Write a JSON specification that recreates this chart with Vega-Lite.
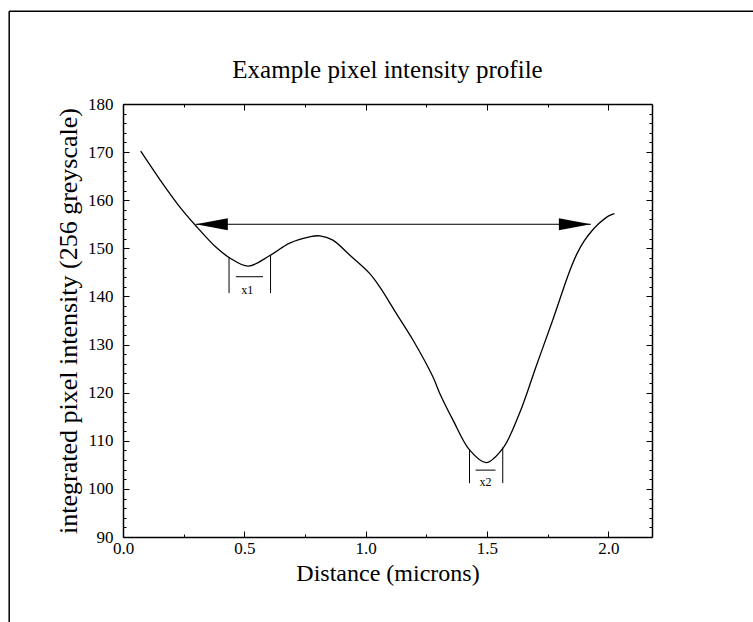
{
  "$schema": "https://vega.github.io/schema/vega-lite/v6.json",
  "autosize": "none",
  "width": 529,
  "height": 433,
  "padding": {"left": 123, "top": 104, "right": 101, "bottom": 85},
  "background": "white",
  "config": {"view": {"stroke": null}, "font": "Liberation Serif"},
  "title": {"text": "Example pixel intensity profile", "font": "Liberation Serif", "fontSize": 25, "fontWeight": "normal", "color": "black", "offset": 0, "dy": 73},
  "datasets": {
    "curve": [
      {"d": 0.073, "v": 170.2}, {"d": 0.152, "v": 164.3}, {"d": 0.228, "v": 159.0}, {"d": 0.300, "v": 154.7},
      {"d": 0.386, "v": 150.1}, {"d": 0.440, "v": 148.0}, {"d": 0.516, "v": 146.3}, {"d": 0.605, "v": 148.5},
      {"d": 0.687, "v": 151.1}, {"d": 0.770, "v": 152.4}, {"d": 0.811, "v": 152.6}, {"d": 0.865, "v": 151.7},
      {"d": 0.934, "v": 148.6}, {"d": 1.016, "v": 144.8}, {"d": 1.058, "v": 142.0}, {"d": 1.126, "v": 136.5},
      {"d": 1.195, "v": 130.95}, {"d": 1.277, "v": 123.3}, {"d": 1.305, "v": 119.9}, {"d": 1.360, "v": 114.3},
      {"d": 1.428, "v": 108.1}, {"d": 1.497, "v": 105.45}, {"d": 1.565, "v": 108.4}, {"d": 1.634, "v": 115.7},
      {"d": 1.702, "v": 125.4}, {"d": 1.771, "v": 135.1}, {"d": 1.840, "v": 145.2}, {"d": 1.870, "v": 148.8},
      {"d": 1.900, "v": 151.5}, {"d": 1.930, "v": 153.5}, {"d": 1.960, "v": 155.1}, {"d": 2.000, "v": 156.7},
      {"d": 2.025, "v": 157.2}
    ],
    "segments": [
      {"x": 0.437, "x2": 0.437, "y": 148.2, "y2": 140.7, "w": 1},
      {"x": 0.608, "x2": 0.608, "y": 148.6, "y2": 140.7, "w": 1},
      {"x": 0.465, "x2": 0.577, "y": 144.1, "y2": 144.1, "w": 1},
      {"x": 1.428, "x2": 1.428, "y": 108.2, "y2": 101.2, "w": 1},
      {"x": 1.565, "x2": 1.565, "y": 108.6, "y2": 101.2, "w": 1},
      {"x": 1.453, "x2": 1.535, "y": 103.9, "y2": 103.9, "w": 1},
      {"x": 0.30, "x2": 1.928, "y": 155.0, "y2": 155.0, "w": 1},
      {"x": -0.469, "x2": 2.7, "y": 199.3, "y2": 199.3, "w": 1.5},
      {"x": -0.469, "x2": -0.469, "y": 199.3, "y2": 70, "w": 1.5}
    ],
    "heads": [
      {"x": 0.30, "y": 155.0, "dir": "left"},
      {"x": 1.928, "y": 155.0, "dir": "right"}
    ],
    "labels": [
      {"x": 0.512, "y": 141.3, "t": "x1"},
      {"x": 1.494, "y": 101.4, "t": "x2"}
    ]
  },
  "resolve": {"axis": {"x": "independent", "y": "independent"}},
  "layer": [
    {
      "data": {"name": "curve"},
      "mark": {"type": "line", "color": "black", "strokeWidth": 1.3, "interpolate": "catmull-rom"},
      "encoding": {
        "x": {"field": "d", "type": "quantitative", "scale": {"domain": [0, 2.18], "nice": false, "zero": false},
          "axis": {"orient": "bottom", "title": "Distance (microns)", "titleFont": "Liberation Serif", "titleFontSize": 24, "titleFontWeight": "normal", "titleColor": "black", "titlePadding": 2,
            "values": [0, 0.25, 0.5, 0.75, 1, 1.25, 1.5, 1.75, 2],
            "labelExpr": "datum.value % 0.5 == 0 ? format(datum.value, '.1f') : ''",
            "labelFont": "Liberation Serif", "labelFontSize": 17, "labelColor": "black", "labelPadding": 9,
            "tickColor": "black", "tickWidth": 1, "tickSize": {"condition": {"test": "datum.value % 0.5 == 0", "value": -6}, "value": -3},
            "domainColor": "black", "domainWidth": 1.5, "grid": false, "labelFlush": false, "labelOverlap": false}},
        "y": {"field": "v", "type": "quantitative", "scale": {"domain": [90, 180], "nice": false, "zero": false},
          "axis": {"orient": "left", "title": "integrated pixel intensity (256 greyscale)", "titleFont": "Liberation Serif", "titleFontSize": 26, "titleFontWeight": "normal", "titleColor": "black", "titlePadding": 6,
            "values": [90, 92, 94, 96, 98, 100, 102, 104, 106, 108, 110, 112, 114, 116, 118, 120, 122, 124, 126, 128, 130, 132, 134, 136, 138, 140, 142, 144, 146, 148, 150, 152, 154, 156, 158, 160, 162, 164, 166, 168, 170, 172, 174, 176, 178, 180],
            "labelExpr": "datum.value % 10 == 0 ? format(datum.value, 'd') : ''",
            "labelFont": "Liberation Serif", "labelFontSize": 17, "labelColor": "black", "labelPadding": 16,
            "tickColor": "black", "tickWidth": 1, "tickSize": {"condition": {"test": "datum.value % 10 == 0", "value": -6}, "value": -3},
            "domainColor": "black", "domainWidth": 1.5, "grid": false, "labelFlush": false, "labelOverlap": false}}
      }
    },
    {
      "data": {"name": "segments"},
      "mark": {"type": "rule", "color": "black"},
      "encoding": {
        "x": {"field": "x", "type": "quantitative",
          "axis": {"orient": "top", "title": null, "labels": false,
            "values": [0, 0.25, 0.5, 0.75, 1, 1.25, 1.5, 1.75, 2],
            "tickColor": "black", "tickWidth": 1, "tickSize": {"condition": {"test": "datum.value % 0.5 == 0", "value": -6}, "value": -3},
            "domainColor": "black", "domainWidth": 1.5, "grid": false}},
        "x2": {"field": "x2"},
        "y": {"field": "y", "type": "quantitative",
          "axis": {"orient": "right", "title": null, "labels": false,
            "values": [90, 92, 94, 96, 98, 100, 102, 104, 106, 108, 110, 112, 114, 116, 118, 120, 122, 124, 126, 128, 130, 132, 134, 136, 138, 140, 142, 144, 146, 148, 150, 152, 154, 156, 158, 160, 162, 164, 166, 168, 170, 172, 174, 176, 178, 180],
            "tickColor": "black", "tickWidth": 1, "tickSize": {"condition": {"test": "datum.value % 10 == 0", "value": -6}, "value": -3},
            "domainColor": "black", "domainWidth": 1.5, "grid": false}},
        "y2": {"field": "y2"},
        "strokeWidth": {"field": "w", "type": "quantitative", "scale": null}
      }
    },
    {
      "data": {"name": "heads"},
      "mark": {"type": "point", "filled": true, "color": "black", "opacity": 1, "size": 1024, "strokeWidth": 0},
      "encoding": {
        "x": {"field": "x", "type": "quantitative", "axis": null},
        "y": {"field": "y", "type": "quantitative", "axis": null},
        "shape": {"field": "dir", "type": "nominal", "legend": null,
          "scale": {"domain": ["left", "right"], "range": ["M0,0L2,-0.375L2,0.375Z", "M0,0L-2,-0.375L-2,0.375Z"]}}
      }
    },
    {
      "data": {"name": "labels"},
      "mark": {"type": "text", "font": "Liberation Serif", "fontSize": 12, "color": "black", "baseline": "middle", "align": "center"},
      "encoding": {
        "x": {"field": "x", "type": "quantitative", "axis": null},
        "y": {"field": "y", "type": "quantitative", "axis": null},
        "text": {"field": "t"}
      }
    }
  ]
}
